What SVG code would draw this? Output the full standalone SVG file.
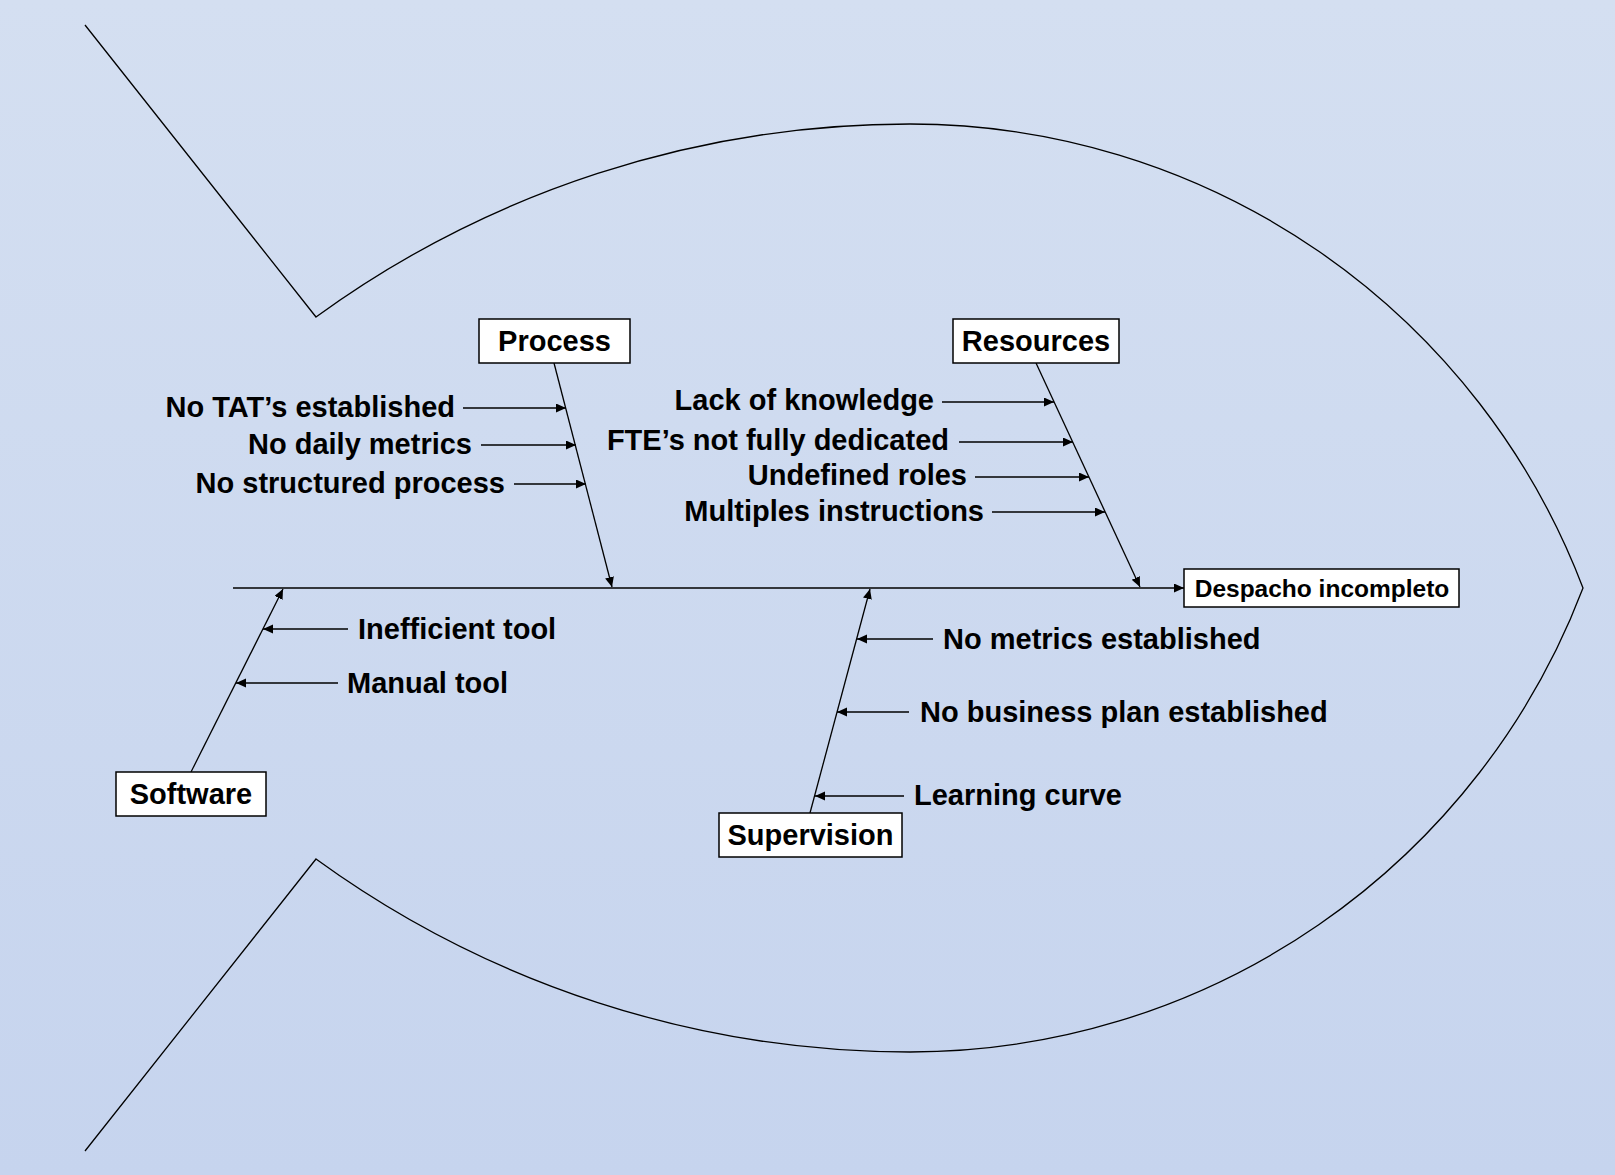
<svg xmlns="http://www.w3.org/2000/svg" width="1615" height="1175" viewBox="0 0 1615 1175">
<defs>
<linearGradient id="bg" x1="0" y1="0" x2="0" y2="1">
<stop offset="0" stop-color="#D4DFF1"/>
<stop offset="1" stop-color="#C6D4EE"/>
</linearGradient>
<marker id="ah" markerWidth="11" markerHeight="10" refX="10" refY="4.5" orient="auto" markerUnits="userSpaceOnUse">
<path d="M0,0 L10,4.5 L0,9 z" fill="#000"/>
</marker>
<style>
.ln{stroke:#000;stroke-width:1.3;fill:none}
.ar{stroke:#000;stroke-width:1.3;fill:none;marker-end:url(#ah)}
.box{fill:#fff;stroke:#000;stroke-width:1.5}
.t{font-family:"Liberation Sans",Arial,sans-serif;font-weight:bold;font-size:29px;fill:#000}
.bt{font-family:"Liberation Sans",Arial,sans-serif;font-weight:bold;font-size:29px;fill:#000;text-anchor:middle}
.e{text-anchor:end}
</style>
</defs>
<rect x="0" y="0" width="1615" height="1175" fill="url(#bg)"/>
<g id="fish">
<path class="ln" d="M85,25 L316,317 A1010,1010 0 0 1 910,124 A720,720 0 0 1 1583,588 A720,720 0 0 1 910,1052 A1010,1010 0 0 1 316,859 L85,1151"/>
</g>
<g id="connectors">
<line class="ar" x1="233" y1="588" x2="1184" y2="588"/>
<line class="ar" x1="554" y1="363" x2="612" y2="587"/>
<line class="ar" x1="1036" y1="363" x2="1140" y2="587"/>
<line class="ar" x1="191" y1="772" x2="283" y2="589"/>
<line class="ar" x1="810" y1="813" x2="870" y2="589"/>
<line class="ar" x1="463" y1="408" x2="566" y2="408"/>
<line class="ar" x1="481" y1="445" x2="576" y2="445"/>
<line class="ar" x1="514" y1="484" x2="586" y2="484"/>
<line class="ar" x1="942" y1="402" x2="1054" y2="402"/>
<line class="ar" x1="959" y1="442" x2="1073" y2="442"/>
<line class="ar" x1="975" y1="477" x2="1089" y2="477"/>
<line class="ar" x1="992" y1="512" x2="1105" y2="512"/>
<line class="ar" x1="348" y1="629" x2="263" y2="629"/>
<line class="ar" x1="338" y1="683" x2="236" y2="683"/>
<line class="ar" x1="933" y1="639" x2="857" y2="639"/>
<line class="ar" x1="909" y1="712" x2="837" y2="712"/>
<line class="ar" x1="904" y1="796" x2="815" y2="796"/>
</g>
<g id="process">
<rect class="box" x="479" y="319" width="151" height="44"/>
<text class="bt" x="554.5" y="351">Process</text>
</g>
<g id="resources">
<rect class="box" x="953" y="319" width="166" height="44"/>
<text class="bt" x="1036" y="351">Resources</text>
</g>
<g id="software">
<rect class="box" x="116" y="772" width="150" height="44"/>
<text class="bt" x="191" y="804">Software</text>
</g>
<g id="supervision">
<rect class="box" x="719" y="813" width="183" height="44"/>
<text class="bt" x="810.5" y="845">Supervision</text>
</g>
<g id="effect">
<rect class="box" x="1184" y="569" width="275" height="38"/>
<text class="bt" x="1322" y="597" style="font-size:24.5px">Despacho incompleto</text>
</g>
<g id="causes">
<text class="t e" x="455" y="417">No TAT’s established</text>
<text class="t e" x="472" y="454">No daily metrics</text>
<text class="t e" x="505" y="493">No structured process</text>
<text class="t e" x="934" y="410">Lack of knowledge</text>
<text class="t e" x="949" y="450">FTE’s not fully dedicated</text>
<text class="t e" x="967" y="485">Undefined roles</text>
<text class="t e" x="984" y="521">Multiples instructions</text>
<text class="t" x="358" y="639">Inefficient tool</text>
<text class="t" x="347" y="693">Manual tool</text>
<text class="t" x="943" y="649">No metrics established</text>
<text class="t" x="920" y="722">No business plan established</text>
<text class="t" x="914" y="805">Learning curve</text>
</g>
</svg>
